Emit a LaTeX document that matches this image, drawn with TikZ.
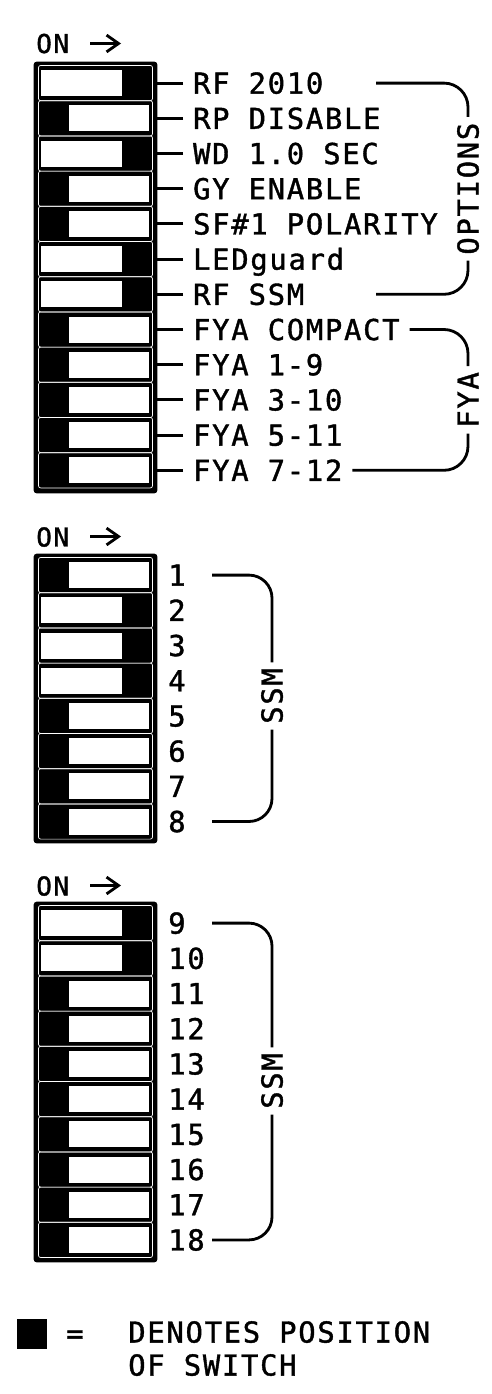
\documentclass[tikz,border=0pt]{standalone}
\usepackage{fontspec}
\newfontfamily\dipfont{DejaVu Sans Mono}[LetterSpace=6, FakeBold=1.3]
\usetikzlibrary{arrows.meta}
\tikzset{
    bank/.style={draw, fill, line width=2pt, rounded corners=1.5pt},
    slot/.style={draw=white, line width=0.5pt, rounded corners=1.5pt},
    lead/.style={line width=2pt},
    brace/.style={line width=2pt, rounded corners=0.6cm},
    lbl/.style={font=\dipfont\fontsize{20.5}{24}\selectfont, anchor=west, inner ysep=0pt, inner xsep=7pt, text height=15pt, text depth=0pt},
    num/.style={lbl, inner xsep=0pt},
    grp/.style={font=\dipfont\fontsize{20.5}{24}\selectfont, rotate=90, inner xsep=4pt, inner ysep=0pt, text height=15pt, text depth=0pt},
    onlbl/.style={font=\dipfont\fontsize{18.5}{22}\selectfont, anchor=west, inner sep=0pt, text height=13.5pt, text depth=0pt},
    onarrow/.style={line width=2pt, -{Straight Barb[length=0.3cm, width=0.42cm]}}
}
\begin{document}
\begin{tikzpicture}[x=0.025cm, y=0.025cm]
    \useasboundingbox (0,0) rectangle (492,-1394);

    % options bank
    \node[onlbl] (on1) at (36,-43.5) {ON};
    \coordinate (on1a) at (90,-43.5);
    \coordinate (on1b) at (121,-43.5);
    \draw[onarrow] (on1a) -- (on1b);
    \draw[bank] (35,-63) rectangle (156,-492) coordinate (b1);
\foreach \s/\txt [count=\i] in {1/RF 2010, 0/RP DISABLE, 1/WD 1.0 SEC, 0/GY ENABLE, 0/SF\#1 POLARITY, 1/LEDguard, 1/RF SSM, 0/FYA COMPACT, 0/FYA 1-9, 0/FYA 3-10, 0/FYA 5-11, 0/FYA 7-12}
{
    \pgfmathsetmacro\yc{-65.5-35.2*\i+17.6}
    \draw[slot] (38.5,\yc+17.6) rectangle (152.5,\yc-17.6);
    \ifnum\s=1
        \fill[white] (41,\yc+13) rectangle (122,\yc-13);
    \else
        \fill[white] (69,\yc+13) rectangle (149,\yc-13);
    \fi
    \node[lbl] (opt\i) at (183,\yc) {\txt};
    \draw[lead] (opt\i.west) -- (opt\i.west -| b1);
}
    \node[grp] (options) at (468,-188.7) {OPTIONS};
    \coordinate (optx) at (376,0);
    \draw[brace] (opt1 -| optx) -| (options.east);
    \draw[brace] (opt7 -| optx) -| (options.west);
    \node[grp] (fya) at (468,-399.9) {FYA};
    \draw[brace] (opt8.east) -| (fya.east);
    \draw[brace] (opt12.east) -| (fya.west);

    % ssm 1-8
    \node[onlbl] (on2) at (36,-537) {ON};
    \coordinate (on2a) at (90,-536.5);
    \coordinate (on2b) at (121,-536.5);
    \draw[onarrow] (on2a) -- (on2b);
    \draw[bank] (35,-555) rectangle (156,-842) coordinate (b2);
\foreach \s [count=\i] in {0,1,1,1,0,0,0,0}
{
    \pgfmathsetmacro\yc{-557.5-35.2*\i+17.6}
    \draw[slot] (38.5,\yc+17.6) rectangle (152.5,\yc-17.6);
    \ifnum\s=1
        \fill[white] (41,\yc+13) rectangle (122,\yc-13);
    \else
        \fill[white] (69,\yc+13) rectangle (149,\yc-13);
    \fi
    \node[num] (ssma\i) at (168,\yc) {\i};
}
    \coordinate (ssmx) at (212,0);
    \node[grp] (ssm1) at (272,-696) {SSM};
    \draw[brace, rounded corners=0.575cm] (ssma1 -| ssmx) -| (ssm1.east);
    \draw[brace, rounded corners=0.575cm] (ssma8 -| ssmx) -| (ssm1.west);

    % ssm 9-18
    \node[onlbl] (on3) at (36,-886) {ON};
    \coordinate (on3a) at (90,-885.5);
    \coordinate (on3b) at (121,-885.5);
    \draw[onarrow] (on3a) -- (on3b);
    \draw[bank] (35,-903) rectangle (156,-1261) coordinate (b3);
\foreach \s [count=\i from 9] in {1,1,0,0,0,0,0,0,0,0}
{
    \pgfmathsetmacro\yc{-905.5-35.2*(\i-8)+17.6}
    \draw[slot] (38.5,\yc+17.6) rectangle (152.5,\yc-17.6);
    \ifnum\s=1
        \fill[white] (41,\yc+13) rectangle (122,\yc-13);
    \else
        \fill[white] (69,\yc+13) rectangle (149,\yc-13);
    \fi
    \node[num] (ssmb\i) at (168,\yc) {\i};
}
    \node[grp] (ssm2) at (272,-1081) {SSM};
    \draw[brace, rounded corners=0.575cm] (ssmb9 -| ssmx) -| (ssm2.east);
    \draw[brace, rounded corners=0.575cm] (ssmb18 -| ssmx) -| (ssm2.west);

    % legend
    \node[fill, minimum size=0.75cm, inner sep=0pt] (key) at (32,-1334) {};
    \node[num, anchor=center] (eq) at (75,-1333) {=};
    \node[num] (note1) at (128,-1332) {DENOTES POSITION};
    \node[num] (note2) at (128,-1365) {OF SWITCH};
\end{tikzpicture}
\end{document}
